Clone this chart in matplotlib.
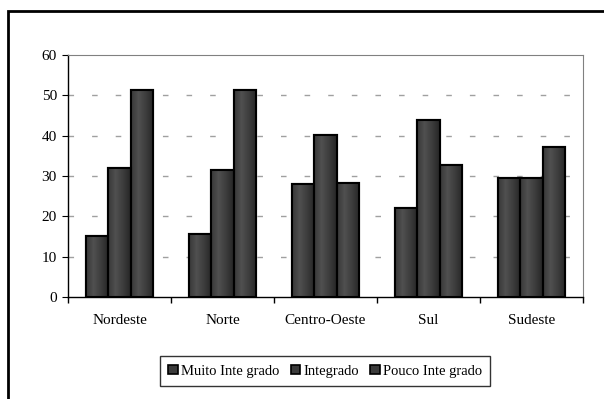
import numpy as np
import matplotlib.pyplot as plt
from matplotlib.patches import Rectangle
from matplotlib.colors import LinearSegmentedColormap

regioes = ['Nordeste', 'Norte', 'Centro-Oeste', 'Sul', 'Sudeste']
series = ['Muito Inte grado', 'Integrado', 'Pouco Inte grado']
muito = [15.1, 15.7, 28.0, 22.1, 29.5]
integrado = [32.1, 31.5, 40.1, 43.9, 29.5]
pouco = [51.3, 51.4, 28.2, 32.8, 37.2]
valores = [muito, integrado, pouco]

plt.rcParams['font.family'] = ['Liberation Serif', 'DejaVu Serif']

fig = plt.figure(figsize=(6.04, 3.99), dpi=100)
ax = fig.add_axes([68 / 604, 1 - 297 / 399, (583 - 68) / 604, (297 - 55) / 399])

# gradiente "cilindrico" das barras
cmap = LinearSegmentedColormap.from_list('cil', ['#383838', '#505050', '#3c3c3c', '#262626'])
grad = np.linspace(0, 1, 64).reshape(1, -1)

x = np.arange(len(regioes))
w = 0.22
for i, vals in enumerate(valores):
    pos = x + (i - 1) * w
    bars = ax.bar(pos, vals, width=w, color='#3c3c3c', edgecolor='black', linewidth=1.5, zorder=3)
    for b in bars:
        x0, y0 = b.get_x(), b.get_y()
        im = ax.imshow(grad, cmap=cmap, aspect='auto', zorder=3.5,
                       extent=[x0, x0 + b.get_width(), y0, y0 + b.get_height()])
        im.set_clip_path(b)
        ax.add_patch(Rectangle((x0, y0), b.get_width(), b.get_height(), fill=False,
                               edgecolor='black', linewidth=1.5, zorder=4))

ax.set_xlim(-0.5, len(regioes) - 0.5)
ax.set_ylim(0, 60)
ax.set_yticks(range(0, 61, 10))
ax.set_xticks(x)
ax.set_xticklabels(regioes)
ax.set_xticks(np.arange(-0.5, len(regioes)), minor=True)
ax.tick_params(axis='x', which='major', length=0, pad=12, labelsize=11)
ax.tick_params(axis='x', which='minor', length=4, direction='out', width=1)
ax.tick_params(axis='y', length=4, direction='out', pad=4, labelsize=11)

for yv in range(10, 60, 10):
    ax.axhline(yv, color='#a0a0a0', linewidth=1, linestyle=(0, (4, 13)), zorder=1)

ax.spines['left'].set_linewidth(1)
ax.spines['bottom'].set_linewidth(1)
ax.spines['top'].set_color('#808080')
ax.spines['right'].set_color('#808080')

handles = [Rectangle((0, 0), 1, 1, facecolor='#3c3c3c', edgecolor='black', linewidth=1.2)
           for _ in series]
leg = fig.legend(handles, series, loc='center', bbox_to_anchor=(325 / 604, 1 - 371 / 399),
                 ncol=3, frameon=True, fancybox=False, edgecolor='black', fontsize=10.5,
                 handlelength=0.65, handleheight=0.65, handletextpad=0.2, columnspacing=0.8,
                 borderpad=0.55, borderaxespad=0)
leg.get_frame().set_linewidth(1)

# moldura externa do grafico
fig.patches.append(Rectangle((8 / 604, -0.5), 2, 1.5 - 11 / 399, transform=fig.transFigure,
                             fill=False, edgecolor='black', linewidth=2))

fig.savefig('out.png', dpi=100)
